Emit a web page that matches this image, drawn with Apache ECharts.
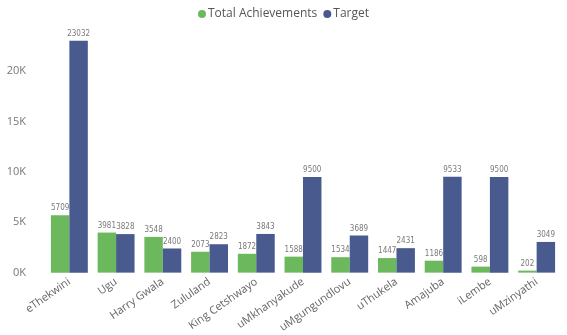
<!DOCTYPE html>
<html>
<head>
<meta charset="utf-8">
<script src="https://cdn.jsdelivr.net/npm/echarts@6/dist/echarts.min.js"></script>
<style>
  html, body { margin: 0; padding: 0; background: #fff; }
  #chart { width: 567px; height: 335px; }
</style>
</head>
<body>
<div id="chart"></div>
<script>
// District results against targets
const districts = ['eThekwini', 'Ugu', 'Harry Gwala', 'Zululand', 'King Cetshwayo', 'uMkhanyakude',
  'uMgungundlovu', 'uThukela', 'Amajuba', 'iLembe', 'uMzinyathi'];
const achievements = [5709, 3981, 3548, 2073, 1872, 1588, 1534, 1447, 1186, 598, 202];
const targets = [23032, 3828, 2400, 2823, 3843, 9500, 3689, 2431, 9533, 9500, 3049];
const yTicks = [0, 5000, 10000, 15000, 20000, 25000];

const labelFont = '"DejaVu Sans Condensed", "DejaVu Sans", sans-serif';
const uiFont = '"Open Sans", "Noto Sans", sans-serif';

const chart = echarts.init(document.getElementById('chart'));

const barLabel = {
  show: true,
  position: 'top',
  distance: 3,
  color: '#7a7a7a',
  fontSize: 8,
  fontFamily: labelFont
};

chart.setOption({
  animation: false,
  textStyle: { fontFamily: uiFont },
  legend: {
    top: 3,
    left: 'center',
    itemWidth: 8,
    itemHeight: 8,
    itemGap: 6,
    icon: 'circle',
    textStyle: { color: '#555', fontSize: 12, fontFamily: uiFont, padding: [0, 0, 0, -3] },
    data: ['Total Achievements', 'Target']
  },
  grid: { left: 46, right: 7, top: 21, bottom: 59.5, containLabel: false },
  xAxis: {
    type: 'category',
    data: districts,
    axisLine: { show: false },
    axisTick: { show: false },
    axisLabel: {
      rotate: 35,
      interval: 0,
      color: '#666',
      fontSize: 11,
      fontFamily: uiFont,
      margin: 8
    }
  },
  yAxis: {
    type: 'value',
    min: yTicks[0],
    max: yTicks[yTicks.length - 1],
    interval: 5000,
    splitLine: { show: false },
    axisLine: { show: false },
    axisTick: { show: false },
    axisLabel: {
      color: '#777',
      fontSize: 11,
      fontFamily: uiFont,
      margin: 20,
      formatter: v => (v === yTicks[yTicks.length - 1] ? '' : (v / 1000) + 'K')
    }
  },
  series: [
    {
      name: 'Total Achievements',
      type: 'bar',
      data: achievements,
      barGap: '0%',
      barCategoryGap: '21%',
      itemStyle: { color: '#6cb85d' },
      label: barLabel
    },
    {
      name: 'Target',
      type: 'bar',
      data: targets,
      itemStyle: { color: '#495a8f' },
      label: barLabel
    }
  ]
});
</script>
</body>
</html>
